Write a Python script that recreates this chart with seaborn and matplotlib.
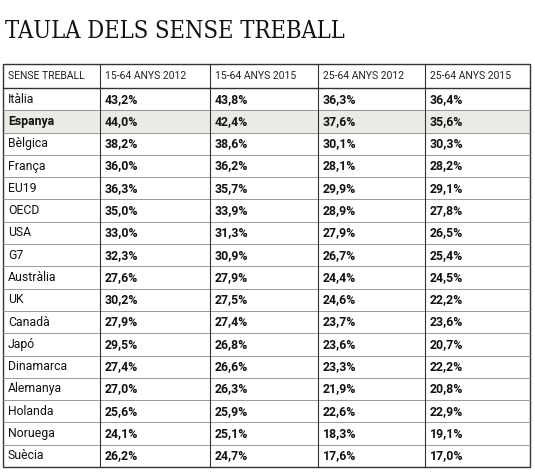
import matplotlib
matplotlib.use("Agg")
import matplotlib.pyplot as plt
import seaborn as sns

sns.set_style("white")
plt.rcParams['font.family'] = ['Roboto', 'DejaVu Sans']

headers = ["SENSE TREBALL", "15-64 ANYS 2012", "15-64 ANYS 2015", "25-64 ANYS 2012", "25-64 ANYS 2015"]
countries = ["Itàlia", "Espanya", "Bèlgica", "França", "EU19", "OECD", "USA", "G7", "Austràlia", "UK",
             "Canadà", "Japó", "Dinamarca", "Alemanya", "Holanda", "Noruega", "Suècia"]
y15_2012 = [43.2, 44.0, 38.2, 36.0, 36.3, 35.0, 33.0, 32.3, 27.6, 30.2, 27.9, 29.5, 27.4, 27.0, 25.6, 24.1, 26.2]
y15_2015 = [43.8, 42.4, 38.6, 36.2, 35.7, 33.9, 31.3, 30.9, 27.9, 27.5, 27.4, 26.8, 26.6, 26.3, 25.9, 25.1, 24.7]
y25_2012 = [36.3, 37.6, 30.1, 28.1, 29.9, 28.9, 27.9, 26.7, 24.4, 24.6, 23.7, 23.6, 23.3, 21.9, 22.6, 18.3, 17.6]
y25_2015 = [36.4, 35.6, 30.3, 28.2, 29.1, 27.8, 26.5, 25.4, 24.5, 22.2, 23.6, 20.7, 22.2, 20.8, 22.9, 19.1, 17.0]
highlight = "Espanya"

fig = plt.figure(figsize=(5.35, 4.73), dpi=100)
ax = fig.add_axes([0, 0, 1, 1])
ax.set_xlim(0, 535)
ax.set_ylim(473, 0)
ax.axis("off")

ax.text(5, 32, "TAULA DELS SENSE TREBALL", family="DejaVu Serif", fontstretch="condensed",
        fontsize=17, va="center", ha="left", color="#111111", fontweight="medium")

cols = [3, 100, 210, 318, 425, 530]
top, hdr_bot, bottom = 64, 88, 467
n = len(countries)
rh = (bottom - hdr_bot) / n

def fmt(v):
    return f"{v:.1f}".replace(".", ",") + "%"

for j, h in enumerate(headers):
    ax.text(cols[j] + 5, (top + hdr_bot) / 2, h, fontsize=7.5, va="center", ha="left", color="#222222")

for i, c in enumerate(countries):
    y0 = hdr_bot + i * rh
    if c == highlight:
        ax.add_patch(plt.Rectangle((cols[0], y0), cols[-1] - cols[0], rh, color="#ebebe6", zorder=0))
    yc = y0 + rh / 2
    ax.text(cols[0] + 5, yc, c, fontsize=8.8, va="center", ha="left", color="#111111",
            fontweight="bold" if c == highlight else "normal")
    for j, arr in enumerate([y15_2012, y15_2015, y25_2012, y25_2015]):
        ax.text(cols[j + 1] + 5, yc, fmt(arr[i]), fontsize=8.8, va="center", ha="left",
                color="#111111", fontweight="bold")
    if i > 0:
        ax.plot([cols[0], cols[-1]], [y0, y0], color="#888888", lw=0.6)

ax.plot([cols[0], cols[-1]], [hdr_bot, hdr_bot], color="#333333", lw=1)
for x in cols[1:-1]:
    ax.plot([x, x], [top, bottom], color="#333333", lw=0.8)
ax.add_patch(plt.Rectangle((cols[0], top), cols[-1] - cols[0], bottom - top, fill=False,
                           ec="#333333", lw=1))

fig.savefig("out.png", dpi=100)
